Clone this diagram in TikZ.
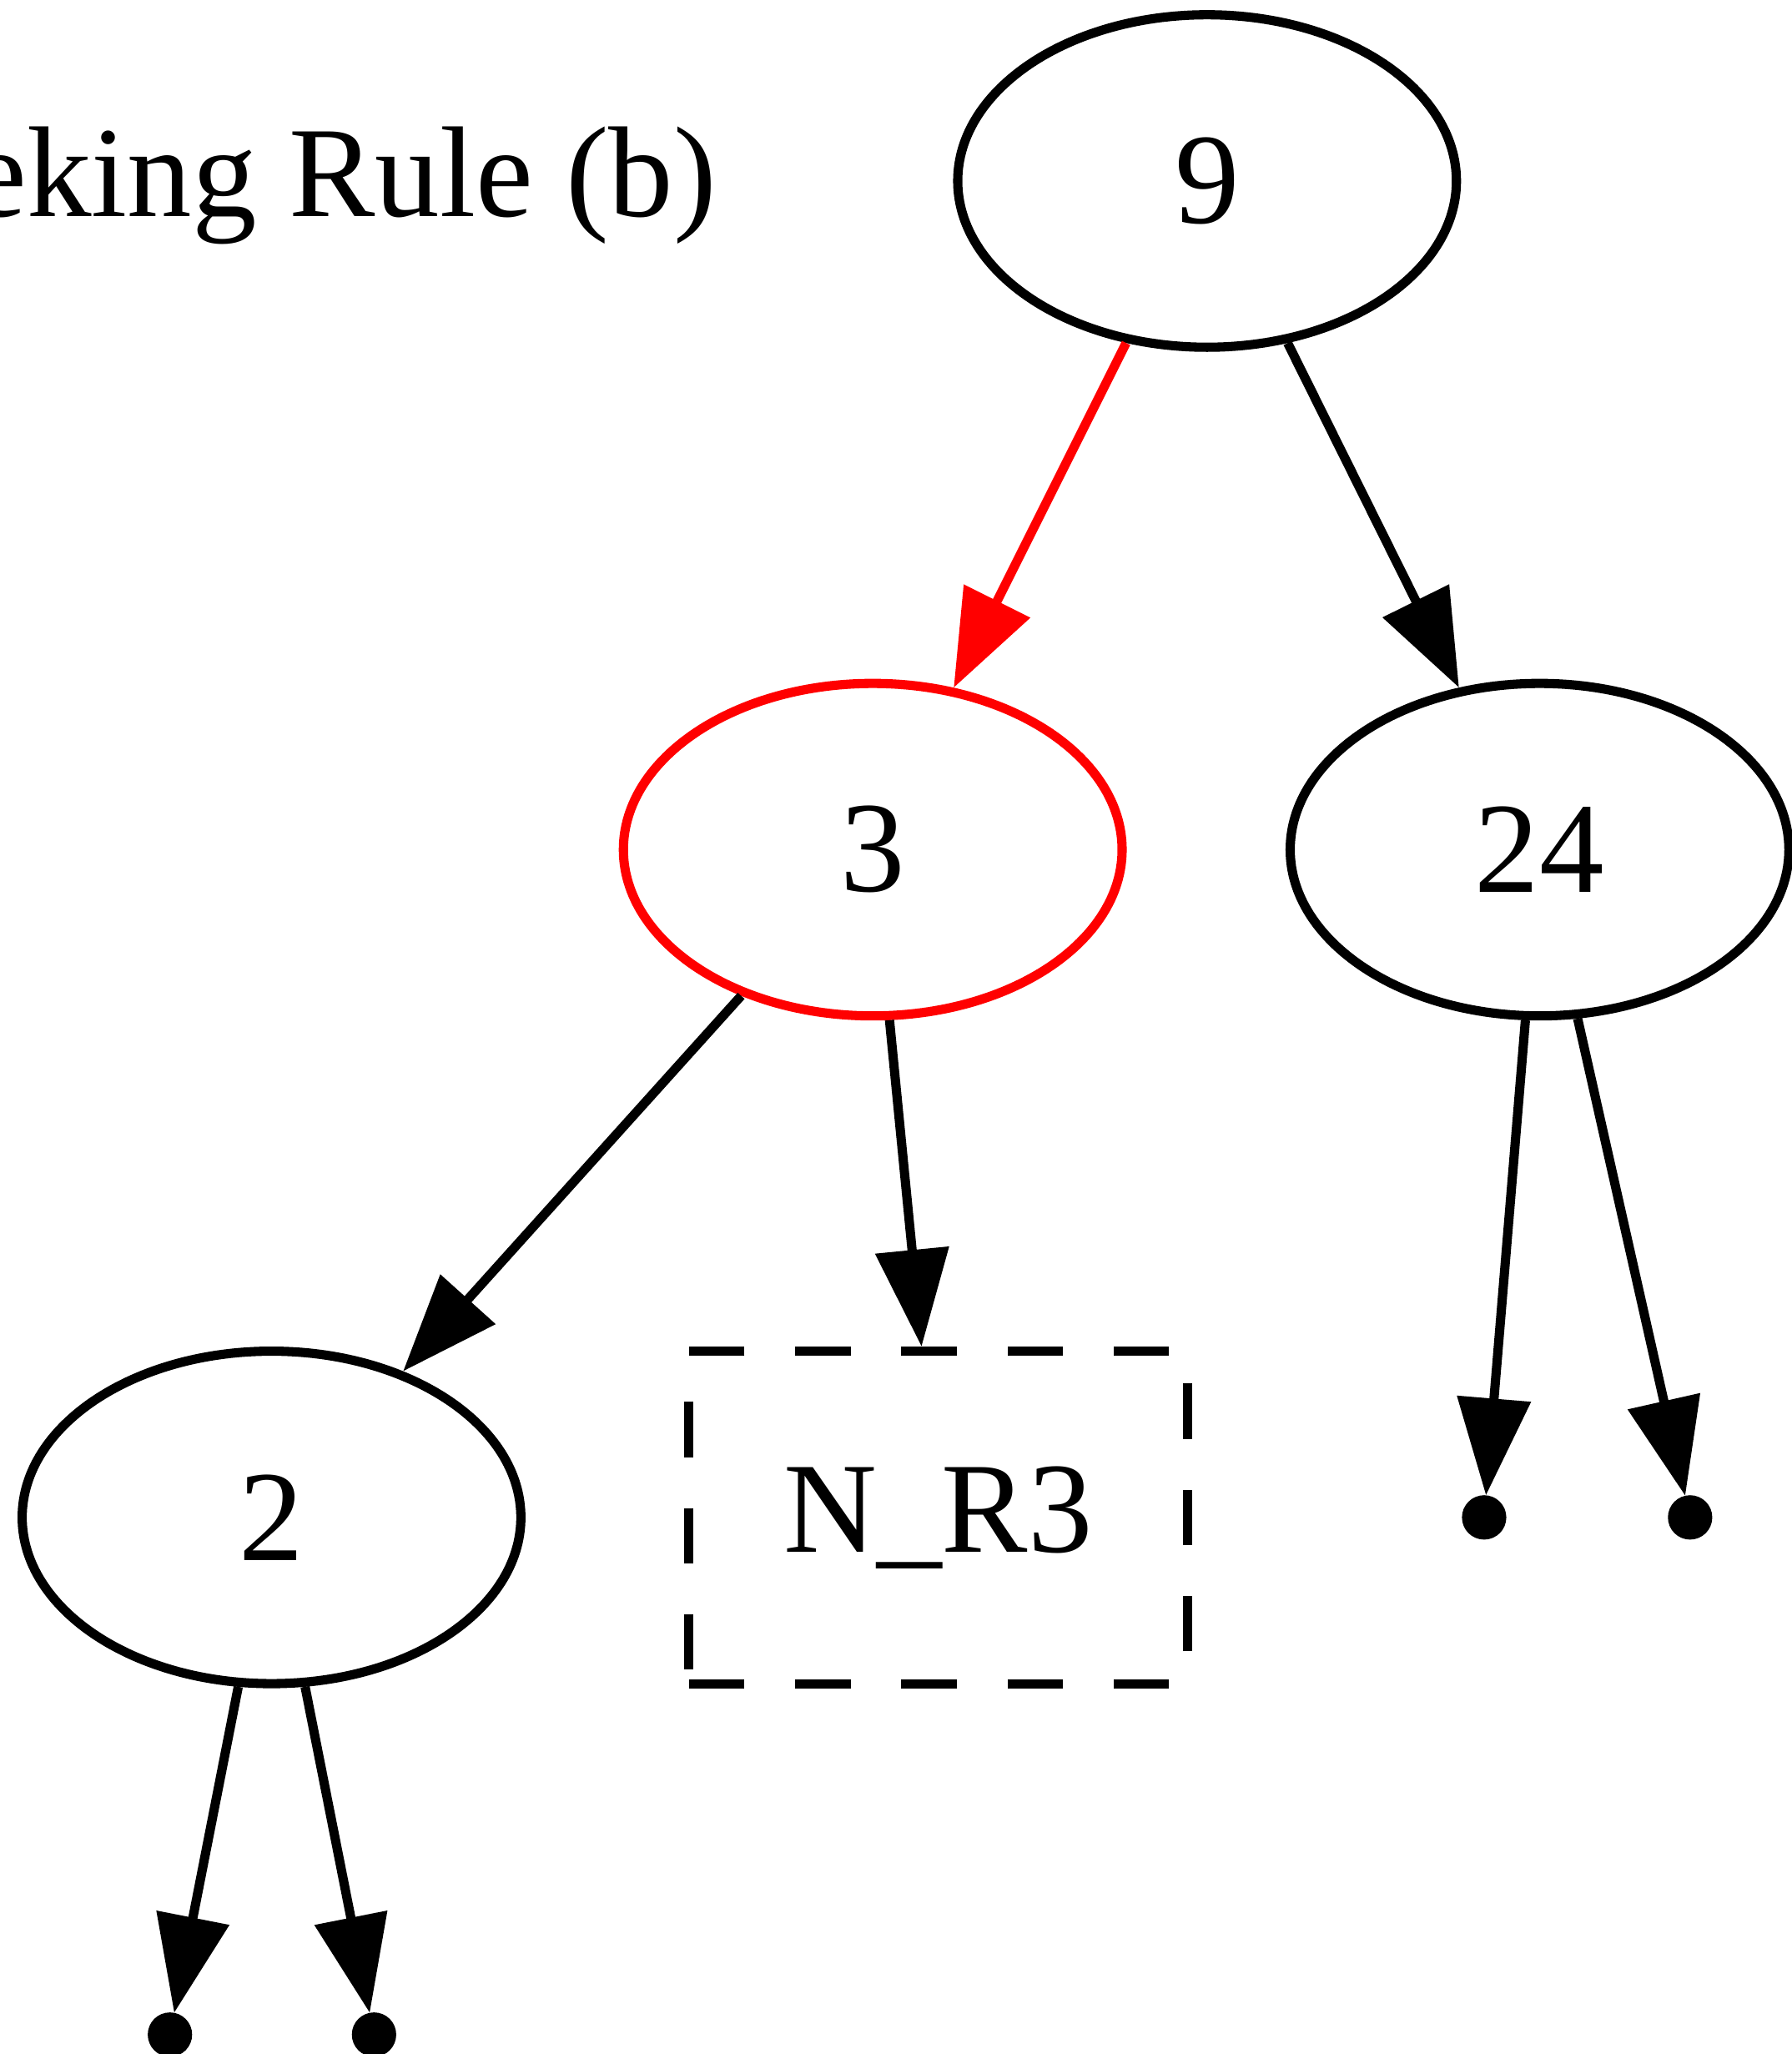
\documentclass[tikz,border=0pt]{standalone}
\usepackage{fontspec}
\setmainfont{Liberation Serif}
\usetikzlibrary{arrows.meta,shapes.geometric}

\begin{document}
\begin{tikzpicture}[
  x=1pt, y=1pt,
  font=\fontsize{14}{17}\selectfont,
  line width=1pt,
  key/.style={draw, ellipse, minimum width=54pt, minimum height=36pt, inner sep=0pt},
  hit/.style={key, draw=red},
  stub/.style={draw, dash pattern=on 6pt off 5.5pt, minimum width=54pt, minimum height=36pt, inner sep=0pt},
  nil/.style={circle, draw, fill, minimum size=3.8pt, inner sep=0pt},
  >={Triangle[length=10.5pt, width=7.8pt]}
]
\useasboundingbox (0,0) rectangle (193.95,222.4);

\node[anchor=base east] (title) at (81.4,199.0) {eking Rule (b)};

\node[key] (n9) at (130.7,202.8) {9};
\node[hit] (n3) at (94.5,130.4) {3};
\node[key] (n24) at (166.7,130.4) {24};
\node[key] (n2) at (29.4,58.1) {2};
\node[stub] (nr3) at (101.6,58.1) {N\_R3};
\node[nil] (l24a) at (160.7,58.1) {};
\node[nil] (l24b) at (183.0,58.1) {};
\node[nil] (l2a) at (18.4,2.1) {};
\node[nil] (l2b) at (40.5,2.1) {};

\draw[->, red] (n9) -- (n3);
\draw[->] (n9) -- (n24);
\draw[->] (n3) -- (n2);
\draw[->] (n3) -- (nr3);
\draw[->] (n24) -- (l24a);
\draw[->] (n24) -- (l24b);
\draw[->] (n2) -- (l2a);
\draw[->] (n2) -- (l2b);
\end{tikzpicture}
\end{document}
